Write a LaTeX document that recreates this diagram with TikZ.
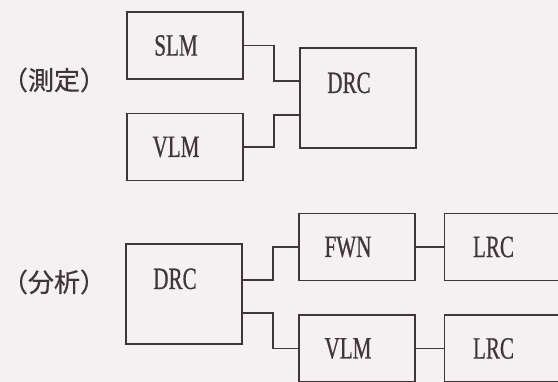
\documentclass[tikz,border=0pt]{standalone}
\usepackage{fontspec}
\newfontfamily\boxfont[FakeStretch=0.68, FakeBold=0.6]{Liberation Serif}
\newfontfamily\jpfont[FakeBold=0.6]{Noto Sans CJK JP}
\usetikzlibrary{positioning}
\definecolor{inkgray}{RGB}{62,54,56}
\definecolor{paper}{RGB}{245,241,243}

\begin{document}
\begin{tikzpicture}[x=1pt, y=-1pt, node distance=33pt,
    blk/.style={rectangle, draw=inkgray, line width=1.5pt, minimum width=116pt, minimum height=67pt, inner sep=0pt, text=inkgray, font=\boxfont\fontsize{31}{31}\selectfont, execute at end node={\hspace*{18pt}}},
    bigblk/.style={blk, minimum height=100pt, text height=20pt, text depth=30pt},
    tag/.style={text=inkgray, font=\jpfont\fontsize{26}{26}\selectfont},
    wire/.style={draw=inkgray, line width=1.5pt}]
    \path[use as bounding box, fill=paper] (0,0) rectangle (558,382);

    % measurement
    \node[tag] (meas) at (54,80) {（測定）};
    \node[blk] (slm) at (185,45.5) {SLM};
    \node[blk, below=of slm] (vlmA) {VLM};
    \node[bigblk] (drcA) at (358,98) {DRC};

    \draw[wire] (slm.east) -- ++(30,0) |- ([yshift=17pt]drcA.west);
    \draw[wire] (vlmA.east) -- ++(30,0) |- ([yshift=-17pt]drcA.west);

    % analysis
    \node[tag] (anal) at (54,282) {（分析）};
    \node[bigblk] (drcB) at (184,294) {DRC};
    \node[blk] (fwn) at (357,247) {FWN};
    \node[blk, below=of fwn] (vlmB) {VLM};
    \node[blk, right=28pt of fwn] (lrcA) {LRC};
    \node[blk, right=28pt of vlmB] (lrcB) {LRC};

    \draw[wire] ([yshift=14pt]drcB.east) -- ++(30,0) |- (fwn.west);
    \draw[wire] ([yshift=-19pt]drcB.east) -- ++(30,0) |- (vlmB.west);
    \draw[wire] (fwn) -- (lrcA);
    \draw[wire] (vlmB) -- (lrcB);
\end{tikzpicture}
\end{document}
